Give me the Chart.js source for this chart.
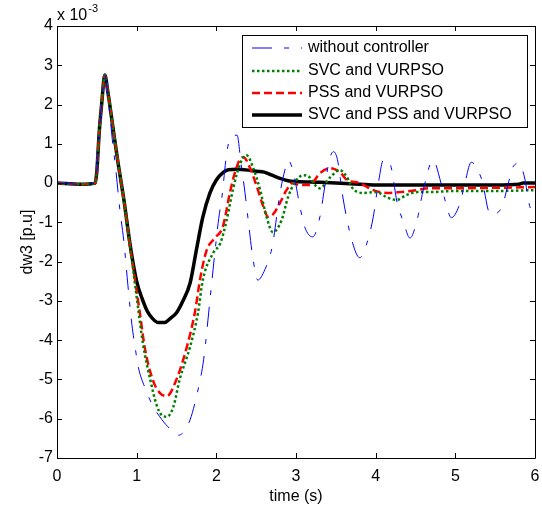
<!DOCTYPE html>
<html>
<head>
<meta charset="utf-8">
<script src="https://cdn.jsdelivr.net/npm/chart.js@4/dist/chart.umd.min.js"></script>
<style>
html,body{margin:0;padding:0;background:#fff;}
#wrap{width:542px;height:510px;position:relative;}
canvas{display:block;}
</style>
</head>
<body>
<div id="wrap"><canvas id="c" width="542" height="510"></canvas></div>
<script>
// ---- data (values in units of 1e-3 p.u.) ----
const xTicks = [0, 1, 2, 3, 4, 5, 6];
const yTicks = [-7, -6, -5, -4, -3, -2, -1, 0, 1, 2, 3, 4];
const seriesNames = ['without controller', 'SVC and VURPSO', 'PSS and VURPSO', 'SVC and PSS and VURPSO'];

const tBlue = [0,0.3,0.48,0.5,0.53,0.56,0.6,0.64,0.7,0.73,0.79,0.84,0.89,0.94,0.98,1.02,1.1,1.21,1.29,1.39,1.52,1.58,1.67,1.75,1.84,1.92,1.98,2.03,2.07,2.13,2.18,2.26,2.31,2.36,2.4,2.45,2.52,2.61,2.7,2.8,2.86,2.9,2.96,3.05,3.11,3.21,3.3,3.36,3.42,3.47,3.52,3.59,3.7,3.8,3.89,3.97,4.03,4.1,4.18,4.27,4.35,4.43,4.52,4.6,4.72,4.82,4.87,4.95,5.06,5.12,5.2,5.33,5.44,5.58,5.66,5.72,5.8,5.87,5.93,6.0];
const yBlue = [0,-0.03,0,0.3,1.3,2.0,2.75,2.2,1.0,0.5,-0.69,-1.5,-2.6,-3.6,-4.17,-4.68,-5.19,-5.7,-5.95,-6.2,-6.42,-6.36,-6.03,-5.44,-4.5,-2.98,-1.8,-0.9,-0.36,0.76,1.17,1.22,0.5,-0.25,-0.94,-1.78,-2.47,-2.2,-1.63,-0.25,0.33,0.58,0.33,-0.6,-1.12,-1.37,-0.86,-0.1,0.6,0.8,0.6,-0.38,-1.45,-1.9,-1.53,-0.86,-0.05,0.6,0.5,-0.5,-1.0,-1.4,-0.94,-0.15,0.58,0.0,-0.43,-0.88,-0.5,0.0,0.53,0.1,-0.8,-0.63,-0.05,0.4,0.5,0.13,-0.56,-0.85];

const tGreen = [0,0.3,0.48,0.5,0.53,0.56,0.6,0.64,0.7,0.76,0.84,0.92,1.0,1.08,1.17,1.25,1.32,1.38,1.46,1.54,1.67,1.77,1.83,1.96,2.05,2.13,2.21,2.3,2.38,2.46,2.55,2.63,2.71,2.82,2.9,2.99,3.09,3.17,3.24,3.3,3.43,3.55,3.64,3.71,3.84,4.01,4.14,4.26,4.39,4.52,4.66,5.0,5.5,6];
const yGreen = [0,-0.03,0,0.3,1.3,2.0,2.75,2.3,1.45,0.6,-0.45,-1.65,-2.9,-4.1,-5.0,-5.65,-5.92,-5.95,-5.7,-5.0,-4.17,-3.3,-2.47,-1.78,-1.53,-0.94,-0.15,0.5,0.71,0.4,-0.18,-0.86,-1.25,-0.94,-0.36,0.03,0.2,0.15,-0.05,-0.13,0.15,0.33,0.15,-0.13,-0.25,-0.23,-0.36,-0.43,-0.3,-0.23,-0.23,-0.2,-0.2,-0.18];

const tRed = [0,0.3,0.48,0.5,0.53,0.56,0.6,0.64,0.7,0.76,0.84,0.92,1.0,1.04,1.1,1.2,1.29,1.38,1.5,1.63,1.73,1.8,1.88,1.98,2.08,2.17,2.23,2.3,2.34,2.42,2.51,2.59,2.65,2.71,2.8,2.88,2.96,3.05,3.17,3.3,3.43,3.55,3.64,3.8,3.97,4.14,4.3,4.52,4.66,5.0,5.5,6];
const yRed = [0,-0.03,0,0.3,1.3,2.0,2.75,2.3,1.45,0.6,-0.45,-1.65,-2.75,-3.3,-4.17,-5.0,-5.34,-5.42,-5.0,-4.17,-3.3,-2.4,-1.7,-1.4,-1.12,-0.25,0.25,0.62,0.66,0.4,-0.1,-0.6,-0.86,-0.8,-0.5,-0.18,0,-0.05,-0.05,0.25,0.38,0.28,0.08,0,-0.18,-0.25,-0.23,-0.18,-0.13,-0.13,-0.12,-0.1];

const tBlack = [0,0.3,0.48,0.5,0.53,0.56,0.6,0.64,0.7,0.76,0.84,0.92,1.0,1.07,1.13,1.2,1.27,1.35,1.42,1.5,1.58,1.67,1.75,1.83,1.92,2.0,2.09,2.15,2.25,2.4,2.5,2.6,2.7,2.8,2.9,3.0,3.3,3.5,3.8,4.0,4.5,5.0,5.5,5.8,5.85,6];
const yBlack = [0,-0.03,0,0.3,1.3,2.0,2.75,2.3,1.45,0.6,-0.43,-1.6,-2.5,-2.95,-3.25,-3.45,-3.55,-3.55,-3.45,-3.3,-3.0,-2.55,-1.7,-0.87,-0.25,0.08,0.28,0.34,0.35,0.33,0.3,0.28,0.2,0.12,0.06,0.04,0.02,0,-0.03,-0.05,-0.05,-0.05,-0.05,-0.03,0,0];

const pts = (t, y) => t.map((v, i) => ({x: v, y: y[i]}));
const FONT = 'Arial, "Liberation Sans", sans-serif';

const frameTicks = {
  id: 'frameTicks',
  afterDatasetsDraw(chart) {
    const {ctx, chartArea: a, scales} = chart;
    ctx.save();
    ctx.strokeStyle = '#000';
    ctx.lineWidth = 1;
    ctx.beginPath();
    ctx.rect(Math.round(a.left) + 0.5, Math.round(a.top) + 0.5, Math.round(a.right - a.left), Math.round(a.bottom - a.top));
    ctx.stroke();
    ctx.beginPath();
    xTicks.forEach(v => {
      const px = Math.round(scales.x.getPixelForValue(v)) + 0.5;
      ctx.moveTo(px, a.bottom); ctx.lineTo(px, a.bottom - 5);
      ctx.moveTo(px, a.top); ctx.lineTo(px, a.top + 5);
    });
    yTicks.forEach(v => {
      const py = Math.round(scales.y.getPixelForValue(v)) + 0.5;
      ctx.moveTo(a.left, py); ctx.lineTo(a.left + 5, py);
      ctx.moveTo(a.right, py); ctx.lineTo(a.right - 5, py);
    });
    ctx.stroke();
    ctx.restore();
  },
  afterDraw(chart) {
    const {ctx, chartArea: a} = chart;
    ctx.save();
    // exponent label
    ctx.fillStyle = '#000';
    ctx.textBaseline = 'alphabetic';
    ctx.textAlign = 'left';
    ctx.font = '16px ' + FONT;
    ctx.fillText('x 10', a.left, 20);
    const w = ctx.measureText('x 10').width;
    ctx.font = '11px ' + FONT;
    ctx.fillText('-3', a.left + w + 1, 12);
    // legend
    const bx = 242, by = 35, bw = 285, bh = 92;
    ctx.fillStyle = '#fff';
    ctx.fillRect(bx, by, bw, bh);
    ctx.strokeStyle = '#000';
    ctx.lineWidth = 1;
    ctx.strokeRect(bx + 0.5, by + 0.5, bw, bh);
    const rows = [48, 71, 93, 115];
    chart.data.datasets.forEach((ds, i) => {
      const y = rows[i];
      ctx.save();
      ctx.strokeStyle = ds.borderColor;
      ctx.lineWidth = ds.borderWidth;
      ctx.setLineDash(ds.borderDash || []);
      ctx.beginPath();
      ctx.moveTo(252, y); ctx.lineTo(302, y);
      ctx.stroke();
      ctx.restore();
      ctx.fillStyle = '#000';
      ctx.font = '16px ' + FONT;
      ctx.textBaseline = 'middle';
      ctx.fillText(ds.label, 308, y);
    });
    ctx.restore();
  }
};

new Chart(document.getElementById('c'), {
  type: 'line',
  data: {
    datasets: [
      {label: seriesNames[0], data: pts(tBlue, yBlue), borderColor: '#0000ff', borderWidth: 1, borderDash: [20, 12, 5, 12]},
      {label: seriesNames[1], data: pts(tGreen, yGreen), borderColor: '#008000', borderWidth: 2.5, borderDash: [2.5, 2.5]},
      {label: seriesNames[2], data: pts(tRed, yRed), borderColor: '#ff0000', borderWidth: 2.5, borderDash: [8, 4]},
      {label: seriesNames[3], data: pts(tBlack, yBlack), borderColor: '#000000', borderWidth: 3.5}
    ]
  },
  options: {
    responsive: false,
    animation: false,
    devicePixelRatio: 1,
    parsing: true,
    elements: {point: {radius: 0}, line: {tension: 0, cubicInterpolationMode: 'monotone', fill: false}},
    layout: {padding: {left: 0, top: 26, right: 7, bottom: 0}},
    plugins: {legend: {display: false}, tooltip: {enabled: false}},
    scales: {
      x: {
        type: 'linear', min: 0, max: 6,
        afterBuildTicks(s) { s.ticks = xTicks.map(v => ({value: v})); },
        ticks: {color: '#000', font: {family: FONT, size: 16}, padding: 9, maxRotation: 0, autoSkip: false},
        grid: {display: false, drawTicks: false, tickLength: 0},
        border: {display: false},
        title: {display: true, text: 'time (s)', color: '#000', font: {family: FONT, size: 16}, padding: {top: 0, bottom: 4}},
        afterFit(s) { s.height = 52; s.paddingLeft = 0; s.paddingRight = 0; }
      },
      y: {
        type: 'linear', min: -7, max: 4,
        afterBuildTicks(s) { s.ticks = yTicks.map(v => ({value: v})); },
        ticks: {color: '#000', font: {family: FONT, size: 16}, padding: 4, autoSkip: false},
        grid: {display: false, drawTicks: false, tickLength: 0},
        border: {display: false},
        title: {display: true, text: 'dw3 [p.u]', color: '#000', font: {family: FONT, size: 16}, padding: {top: 18, bottom: 0}},
        afterFit(s) { s.width = 57; s.paddingTop = 0; s.paddingBottom = 0; }
      }
    }
  },
  plugins: [frameTicks]
});
</script>
</body>
</html>
